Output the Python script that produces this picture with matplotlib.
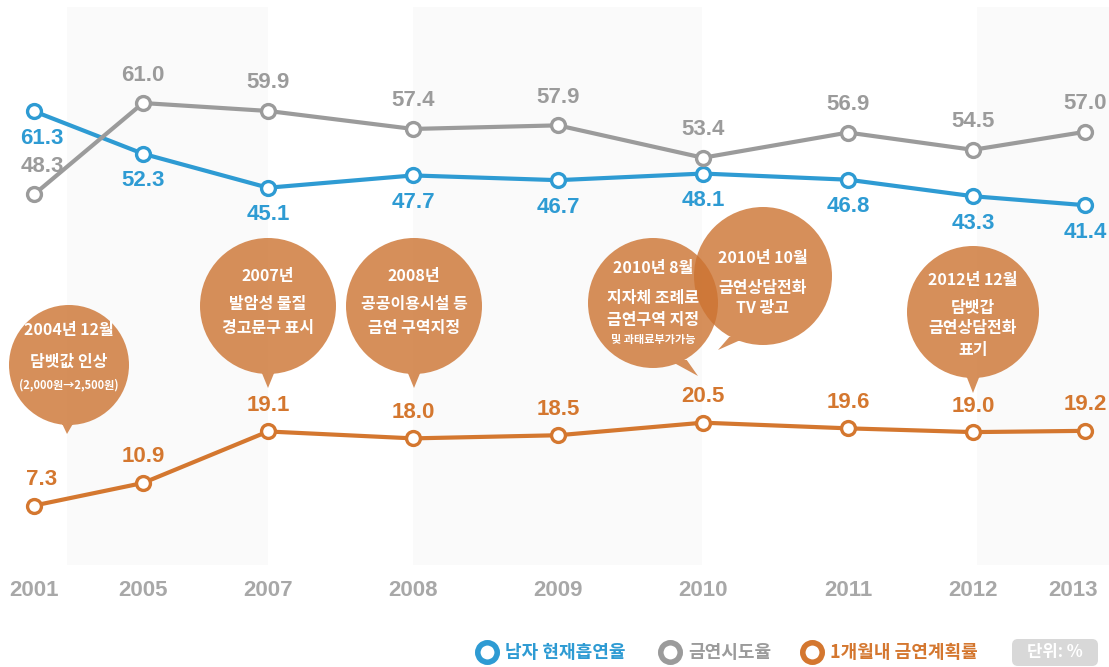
import matplotlib.pyplot as plt
from matplotlib.patches import Rectangle, PathPatch, FancyBboxPatch
from matplotlib.path import Path

# data
years = ['2001', '2005', '2007', '2008', '2009', '2010', '2011', '2012', '2013']
male_smoking = [61.3, 52.3, 45.1, 47.7, 46.7, 48.1, 46.8, 43.3, 41.4]
quit_attempt = [48.3, 61.0, 59.9, 57.4, 57.9, 53.4, 56.9, 54.5, 57.0]
quit_plan = [7.3, 10.9, 19.1, 18.0, 18.5, 20.5, 19.6, 19.0, 19.2]

series_names = ['남자 현재흡연율', '금연시도율', '1개월내 금연계획률']

events = [
    ['2004년 12월', '담뱃값 인상', '(2,000원→2,500원)'],
    ['2007년', '발암성 물질', '경고문구 표시'],
    ['2008년', '공공이용시설 등', '금연 구역지정'],
    ['2010년 8월', '지자체 조례로', '금연구역 지정', '및 과태료부가가능'],
    ['2010년 10월', '금연상담전화', 'TV 광고'],
    ['2012년 12월', '담뱃갑', '금연상담전화', '표기'],
]

# layout (pixels, image is 1109 x 667)
W, H = 1109, 667
x_pos = [34, 143, 268, 413, 558, 703, 848, 973, 1085]
bands = [(67, 268), (413, 702), (977, 1109)]
# bubble centre x, centre y, radius, tail tip x, tail tip y
bubble_geo = [
    (69, 365, 60, 67, 434),
    (268, 306, 68, 268, 388),
    (414, 306, 68, 414, 388),
    (653, 303, 65, 698, 376),
    (763, 276, 69, 718, 350),
    (973, 312, 66, 973, 393),
]
# y offsets (pixels) of the text lines in each bubble, relative to centre
bubble_text_dy = [
    [-35, -3, 20],
    [-30, -2, 22],
    [-30, -2, 22],
    [-35, -5, 17, 37],
    [-18, 12, 32],
    [-32, -4, 16, 38],
]

BLUE = '#2e9bd3'
GRAY = '#9b9b9b'
ORANGE = '#d4772f'
BUBBLE = '#cc7331'
YEAR_GRAY = '#a8a8a8'

KR = ['Noto Sans CJK KR', 'DejaVu Sans']
NUM = ['Liberation Sans', 'DejaVu Sans']

fig = plt.figure(figsize=(W / 100, H / 100), dpi=100)
fig.patch.set_facecolor('white')
ax = fig.add_axes([0, 0, 1, 1])
ax.set_xlim(0, W)
ax.set_ylim(H, 0)
ax.axis('off')

# light background bands
for x0, x1 in bands:
    ax.add_patch(Rectangle((x0, 7), x1 - x0, 558, facecolor='#fafafa',
                           edgecolor='none', zorder=0))

# year labels (last one pulled in so it stays inside the image)
for xp, yr in zip(x_pos, years):
    ax.text(min(xp, W - 36), 590, yr, ha='center', va='center', fontsize=16,
            fontweight='bold', color=YEAR_GRAY, family=NUM)

# speech bubbles
for cx, cy, r, tx, ty in bubble_geo:
    circ = Path.circle((cx, cy), r)
    bx = cx + (tx - cx) * 0.55
    by = cy + r - 8
    tail = Path([(bx - 9, by), (bx + 9, by), (tx, ty), (bx - 9, by)],
                [Path.MOVETO, Path.LINETO, Path.LINETO, Path.CLOSEPOLY])
    shape = Path.make_compound_path(circ, tail)
    ax.add_patch(PathPatch(shape, facecolor=BUBBLE, edgecolor='none',
                           alpha=0.8, zorder=2))

for (cx, cy, r, tx, ty), lines, dys in zip(bubble_geo, events, bubble_text_dy):
    for line, dy in zip(lines, dys):
        small = line.startswith('(') or line.startswith('및')
        ax.text(cx, cy + dy, line, ha='center', va='center',
                fontsize=8 if small else 11.5, fontweight='bold',
                color='white', family=KR, zorder=3)

# legend
leg_items = [(487, BLUE), (670, GRAY), (812, ORANGE)]
for (lx, col), name in zip(leg_items, series_names):
    ax.plot([lx], [652], marker='o', markersize=14, markerfacecolor='white',
            markeredgecolor=col, markeredgewidth=4, zorder=3)
    ax.text(lx + 18, 652, name, ha='left', va='center', fontsize=13,
            fontweight='bold', color=col, family=KR)
ax.add_patch(FancyBboxPatch((1012, 639), 86, 27,
                            boxstyle='round,pad=0,rounding_size=6',
                            facecolor='#d8d8d8', edgecolor='none', zorder=2))
ax.text(1055, 652, '단위: %', ha='center', va='center', fontsize=12,
        fontweight='bold', color='white', family=KR, zorder=3)

# series, each on its own value scale (infographic style)
series = [
    (male_smoking, BLUE, (-56.44, 84.87), -27),
    (quit_attempt, GRAY, (-17.33, 75.31), 28),
    (quit_plan, ORANGE, (-18.4, 87.8), 26),
]
for vals, col, ylim, dy in series:
    sax = ax.twinx()
    sax.set_ylim(*ylim)
    sax.axis('off')
    sax.plot(x_pos, vals, color=col, linewidth=3, solid_capstyle='round',
             marker='o', markersize=10, markerfacecolor='white',
             markeredgecolor=col, markeredgewidth=2.4, zorder=3)
    for i, (xp, v) in enumerate(zip(x_pos, vals)):
        dx = 8 if i == 0 else 0
        sax.annotate(f'{v:.1f}', (xp, v), xytext=(dx * 0.72, dy * 0.72),
                     textcoords='offset points', ha='center', va='center',
                     fontsize=16, fontweight='bold', color=col, family=NUM)

fig.savefig('out.png', dpi=100, facecolor='white')
